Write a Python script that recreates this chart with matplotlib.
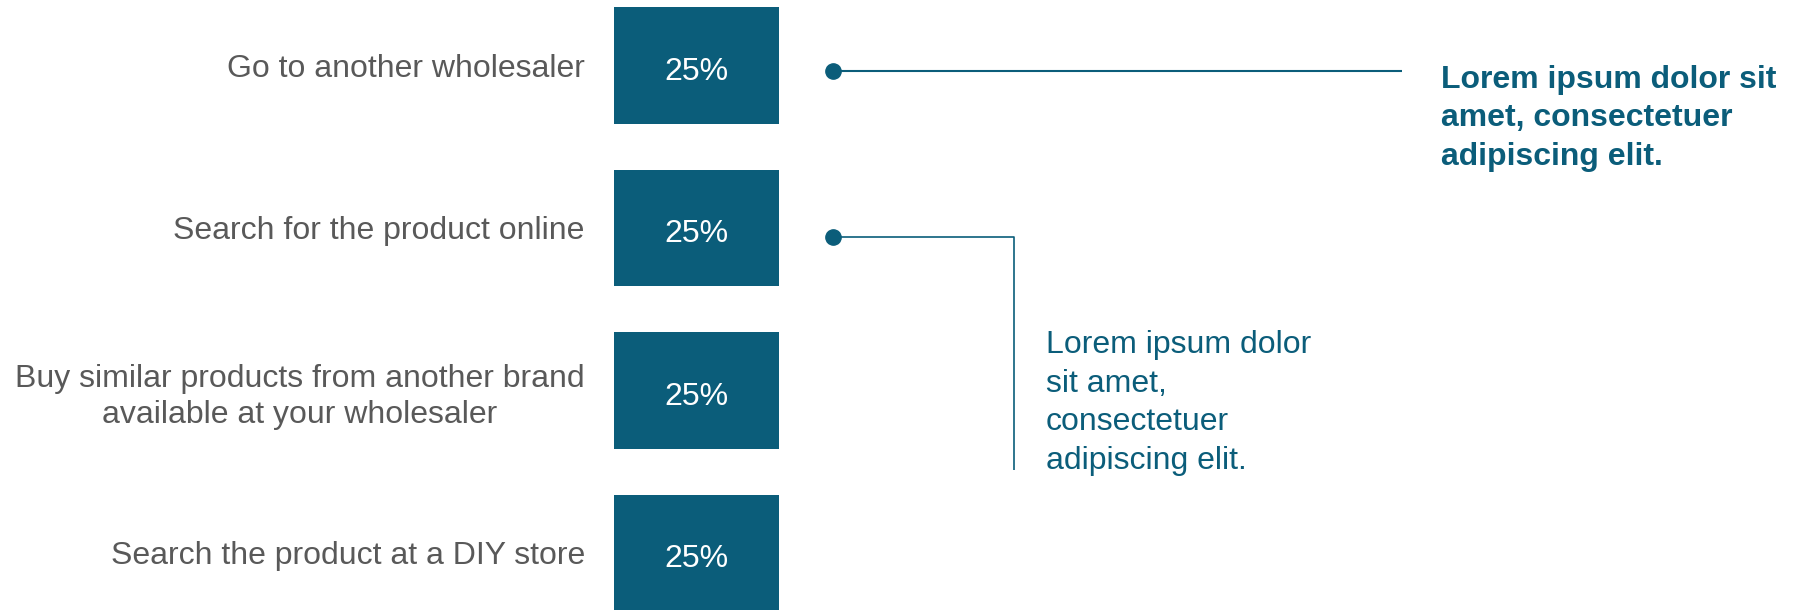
import matplotlib.pyplot as plt

plt.rcParams['font.family'] = ['Liberation Sans', 'DejaVu Sans']

answers = [
    "Go to another wholesaler",
    "Search for the product online",
    "Buy similar products from another brand\navailable at your wholesaler",
    "Search the product at a DIY store",
]
shares = [25, 25, 25, 25]

note_main = "Lorem ipsum dolor sit\namet, consectetuer\nadipiscing elit."
note_side = "Lorem ipsum dolor\nsit amet,\nconsectetuer\nadipiscing elit."

TEAL = "#0B5D7A"
GREY = "#595959"
W, H = 1793, 610

fig = plt.figure(figsize=(W / 100, H / 100), dpi=100)

# overlay in pixel coordinates for the callouts
ov = fig.add_axes([0, 0, 1, 1])
ov.set_xlim(0, W)
ov.set_ylim(H, 0)
ov.axis("off")

# bars: one box per answer, full width = its share
ax = fig.add_axes([614 / W, 0, 165 / W, 1])
pos = list(range(len(answers)))
ax.barh(pos, shares, height=0.714, color=TEAL)
ax.set_xlim(0, max(shares))
ax.set_ylim((H - 65.5) / 162.5, -65.5 / 162.5)
for y, v in zip(pos, shares):
    ax.text(v / 2, y + 0.04, f"{v}%", ha="center", va="center",
            color="white", fontsize=23)
ax.set_yticks(pos, answers, fontsize=23, color=GREY,
              multialignment="center", linespacing=1.28)
ax.tick_params(axis="y", length=0, pad=21)
ax.set_xticks([])
for s in ax.spines.values():
    s.set_visible(False)
ax.patch.set_alpha(0)

# callout 1: straight line to the bold note
ov.plot([833, 1402], [71, 71], color=TEAL, lw=1.5, solid_capstyle="butt")
ov.plot(833, 71, "o", color=TEAL, ms=11)
ov.text(1441, 65, note_main, color=TEAL, fontsize=23, fontweight="bold",
        ha="left", va="top", linespacing=1.36)

# callout 2: elbow line down to the side note
ov.plot([833, 1014, 1014], [237, 237, 470], color=TEAL, lw=1.2,
        solid_capstyle="butt")
ov.plot(833, 237, "o", color=TEAL, ms=11)
ov.text(1046, 330, note_side, color=TEAL, fontsize=23,
        ha="left", va="top", linespacing=1.37)

fig.savefig("out.png", dpi=100)
